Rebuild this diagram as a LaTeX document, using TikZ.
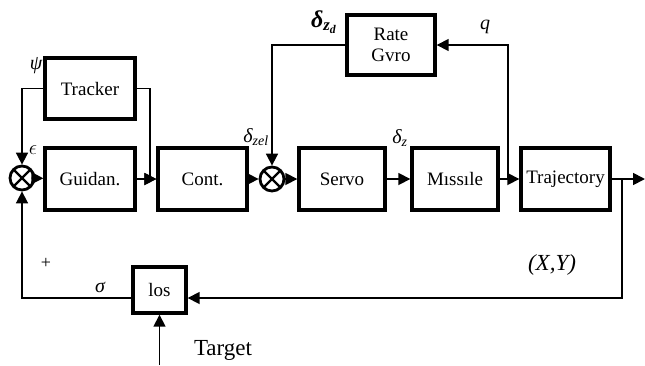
\documentclass[tikz,border=0pt]{standalone}
\usepackage{fontspec}
\setmainfont{Liberation Serif}
\usetikzlibrary{arrows.meta}
\begin{document}
\begin{tikzpicture}[x=1pt,y=-1pt,
  block/.style={draw, line width=3.4pt, minimum height=61pt, inner sep=0pt,
    font=\fontsize{19}{21}\selectfont, align=center},
  sumjunc/.style={draw, circle, line width=2.8pt, minimum size=24pt, inner sep=0pt,
    path picture={\draw[line width=2.4pt] (path picture bounding box.north west) -- (path picture bounding box.south east)
      (path picture bounding box.north east) -- (path picture bounding box.south west);}},
  link/.style={line width=1.7pt, -{Triangle[length=12pt,width=12pt]}},
  lbl/.style={font=\fontsize{20}{22}\selectfont\itshape}]
\useasboundingbox (0,0) rectangle (645,365);
\node[block, minimum width=90pt] (trk) at (90,88.5) {Tracker};
\node[block, minimum width=90pt, minimum height=62pt] (gui) at (90,179) {Guidan.};
\node[block, minimum width=89pt, minimum height=62pt] (cont) at (202.5,179) {Cont.};
\node[block, minimum width=86pt, minimum height=62pt] (srv) at (342,179) {Servo};
\node[block, minimum width=86pt, minimum height=62pt] (mis) at (455,179) {Mıssıle};
\node[block, minimum width=89pt, minimum height=62pt] (traj) at (565.5,179) {Trajectory};
\node[block, minimum width=88pt, minimum height=60pt] (gyro) at (391,45) {Rate\\Gvro};
\node[block, minimum width=53pt, minimum height=46pt] (los) at (159.5,290) {los};
\node[sumjunc] (sum1) at (22,178) {};
\node[sumjunc] (sum2) at (272,179) {};
\coordinate (losy) at (0,298);
\coordinate (qtap) at (508,179);
\coordinate (xytap) at (622,179);
\coordinate (out) at (645,179);
\coordinate (tgt) at (159.5,365);
\draw[link] (sum1) -- (gui);
\draw[link] (gui) -- (cont);
\draw[link] (trk.east) -- ++(13,0) |- (cont.west);
\draw[link] (trk.west) -| (sum1.north);
\draw[link] (cont) -- (sum2);
\draw[link] (sum2) -- (srv);
\draw[link] (srv) -- (mis);
\draw[link] (mis) -- (traj);
\draw[link] (gyro.west) -| (sum2.north);
\draw[link] (qtap) |- (gyro.east);
\draw[link] (traj.east) -- (out);
\draw[link] (xytap) |- (los.east |- losy);
\draw[link] (los.west |- losy) -| (sum1.south);
\draw[link] (tgt) -- (los.south);
\node[lbl] at (36,66) {ψ};
\node[font=\fontsize{20}{22}\selectfont] at (33,150) {$\epsilon$};
\node[font=\fontsize{24}{26}\selectfont\bfseries\itshape] at (324,22) {δ\textsubscript{z\textsubscript{d}}};
\node[lbl] at (485,27) {q};
\node[lbl] at (256,137) {δ\textsubscript{zel}};
\node[lbl] at (400,138) {δ\textsubscript{z}};
\node[font=\fontsize{18}{20}\selectfont] at (46,263) {+};
\node[lbl] at (100,287) {σ};
\node[font=\fontsize{23}{25}\selectfont\itshape] at (552,265) {(X,Y)};
\node[font=\fontsize{23}{25}\selectfont] at (223,350) {Target};
\end{tikzpicture}
\end{document}
